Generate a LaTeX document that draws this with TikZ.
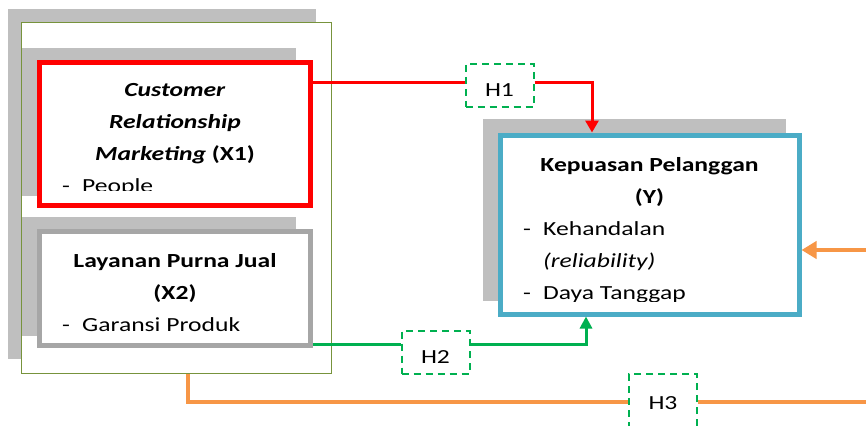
\documentclass[tikz,border=0pt]{standalone}
\usepackage{fontspec}
\setmainfont{Carlito}[FakeStretch=1.28]
\usetikzlibrary{arrows.meta}
\definecolor{shadowgray}{RGB}{191,191,191}
\definecolor{olive}{RGB}{119,147,60}
\definecolor{xred}{RGB}{255,0,0}
\definecolor{xgray}{RGB}{166,166,166}
\definecolor{yblue}{RGB}{75,172,198}
\definecolor{hgreen}{RGB}{0,176,80}
\definecolor{orng}{RGB}{247,150,70}
\tikzset{
	frame/.style={draw=olive, line width=1pt, fill=white, minimum width=310pt, minimum height=350pt, inner sep=0pt},
	varbox/.style={draw=#1, line width=5pt, fill=white, inner sep=0pt},
	hbox/.style={draw=hgreen, line width=2pt, dash pattern=on 7pt off 5pt, fill=white, minimum width=68pt, minimum height=43pt, inner sep=0pt, text height=23pt, text depth=0pt},
	ttl/.style={anchor=base, inner sep=0pt, font=\fontsize{20}{32}\selectfont\bfseries},
	itm/.style={anchor=base west, inner sep=0pt},
	redln/.style={draw=xred, line width=3pt},
	grnln/.style={draw=hgreen, line width=3pt},
	orgln/.style={draw=orng, line width=4pt}
}
\newcommand{\dashitem}[1]{\makebox[20pt][l]{-}#1}

\begin{document}
\begin{tikzpicture}[x=1pt,y=-1pt,font=\fontsize{20}{32}\selectfont]
	%%%%% START %%%%%
	\useasboundingbox (0,0) rectangle (866,425);
	\clip (0,0) rectangle (866,425);
	\fill[white] (0,0) rectangle (866,425);
	
	\fill[shadowgray] (8,9) rectangle (316,359);
	\node[frame] (frame) at (176,198) {};
	\fill[shadowgray] (22,48) rectangle (296,196);
	\fill[shadowgray] (22,217) rectangle (296,336);
	\fill[shadowgray] (483,119) rectangle (786,301);
	
	\node[varbox=xred, minimum width=271pt, minimum height=142pt] (x1) at (175,134) {};
	\node[varbox=xgray, minimum width=271pt, minimum height=114pt] (x2) at (175,288.5) {};
	\node[varbox=yblue, minimum width=299pt, minimum height=179pt] (y) at (649.5,224.5) {};
	
	\begin{scope}
		\clip (x1.north west) rectangle ([yshift=17pt]x1.south east);
		\node[ttl] (x1a) at (175,97) {\textit{Customer}};
		\node[ttl] (x1b) at (175,128.5) {\textit{Relationship}};
		\node[ttl] (x1c) at (175,160) {\textit{Marketing} (X1)};
		\node[itm] (x1d) at (62,192) {\dashitem{People}};
	\end{scope}
	
	\node[ttl] (x2a) at (175,267) {Layanan Purna Jual};
	\node[ttl] (x2b) at (175,299) {(X2)};
	\node[itm] (x2c) at (62,331) {\dashitem{Garansi Produk}};
	
	\begin{scope}
		\clip (y.north west) rectangle ([yshift=15.5pt]y.south east);
		\node[ttl] (ya) at (649.5,171) {Kepuasan Pelanggan};
		\node[ttl] (yb) at (649.5,203) {(Y)};
		\node[itm] (yc) at (523,235) {\dashitem{Kehandalan}};
		\node[itm] (yd) at (543,267) {\textit{(reliability)}};
		\node[itm] (ye) at (523,299) {\dashitem{Daya Tanggap}};
	\end{scope}
	
	\node[hbox] (h1) at (499.5,85.5) {H1};
	\node[hbox] (h2) at (435.5,352) {H2};
	\node[hbox, minimum height=56pt, text height=15pt] (h3) at (663,402) {H3};
	
	\coordinate (edge) at (870,0);
	
	\draw[redln] ([yshift=-22.5pt]x1.north east) coordinate (r0) -- (r0 -| h1.west);
	\draw[redln, -{Triangle[width=13pt,length=12pt]}] (r0 -| h1.east) -| ([xshift=-57.5pt]y.north);
	
	\draw[grnln] ([yshift=4pt]x2.south east) coordinate (g0) -- (g0 -| h2.west);
	\draw[grnln, -{Triangle[width=12pt,length=12pt]}] (g0 -| h2.east) -| ([xshift=-63.5pt]y.south);
	
	\draw[orgln] ([xshift=12pt]frame.south) |- (h3.west);
	\draw[orgln] (h3.east) -- (h3.east -| edge);
	\coordinate (yin) at ([yshift=-25.5pt]y.east);
	\draw[orgln, -{Triangle[width=17pt,length=15pt]}] (yin -| edge) -- (yin);
	
	%%%%% END %%%%%
\end{tikzpicture}
\end{document}
